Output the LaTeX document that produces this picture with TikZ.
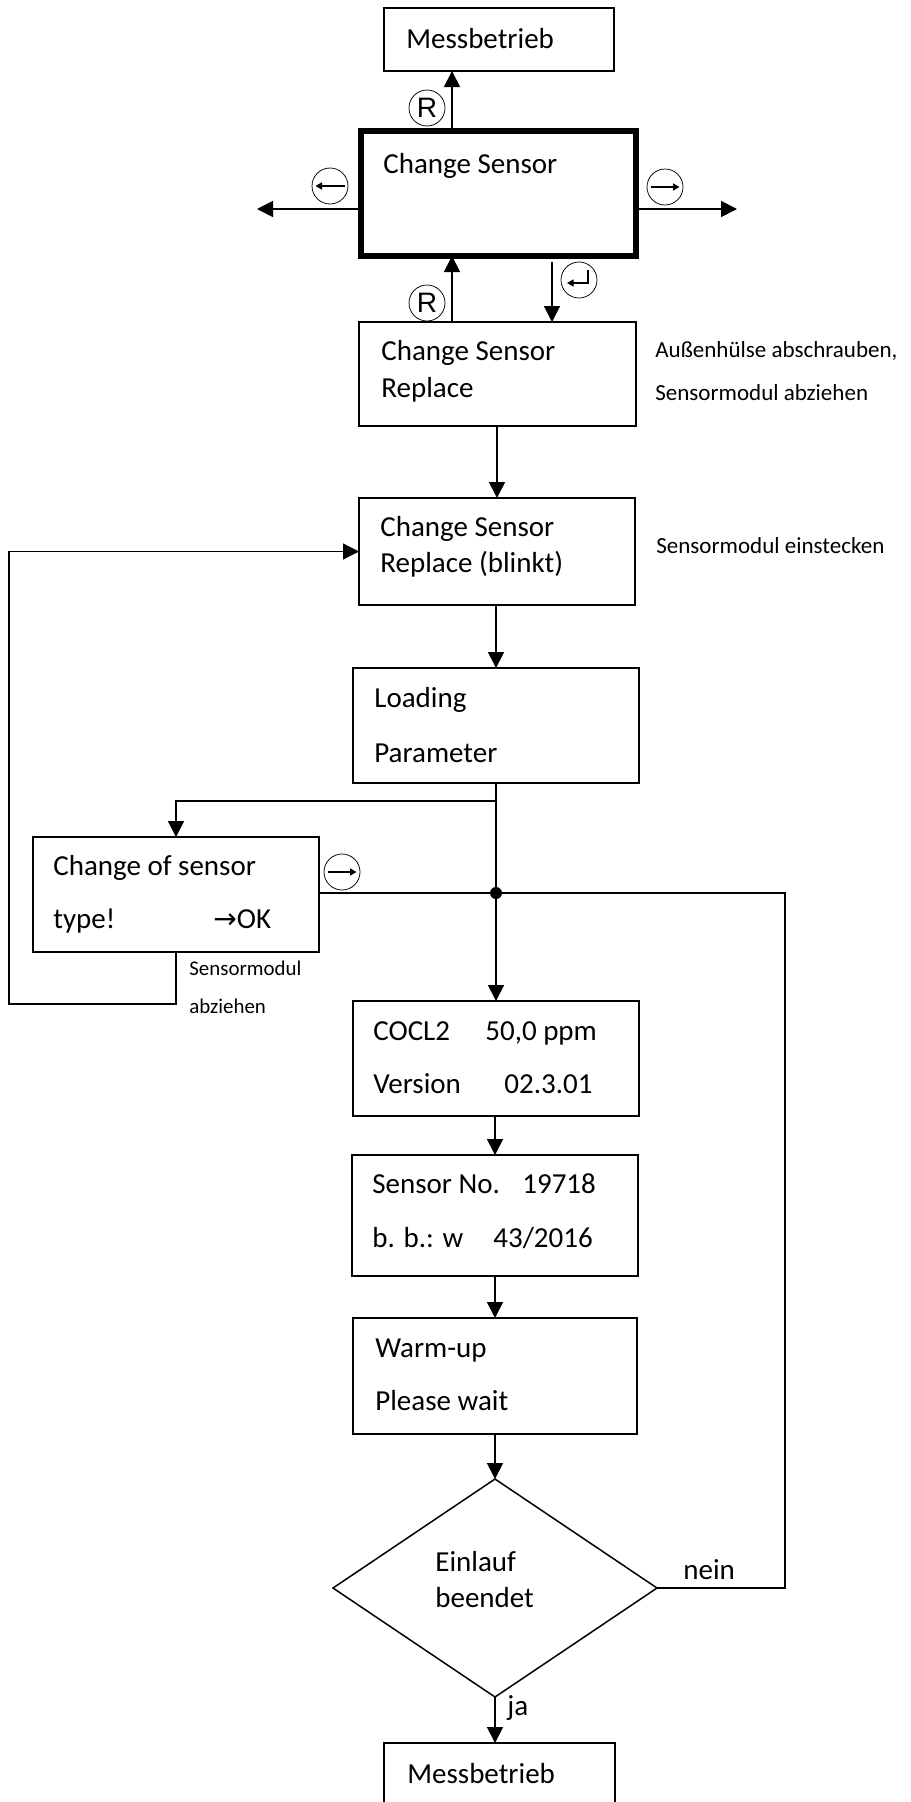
\documentclass[tikz,border=0pt]{standalone}
\usepackage{fontspec}
\setmainfont{Carlito}
\newfontfamily\keyfont{Liberation Sans}
\newfontfamily\symfont{DejaVu Sans}
\usetikzlibrary{shapes.geometric, arrows.meta, positioning, calc}

\newcommand{\px}{0.2mm}
\newcommand{\dispfont}{\fontsize{16.5}{20}\selectfont}
\newcommand{\notefont}{\fontsize{13.1}{16}\selectfont}
\newcommand{\tinynote}{\fontsize{11.9}{14}\selectfont}

\begin{document}
\begin{tikzpicture}[x=0.2mm, y=-0.2mm,
    disp/.style={draw, line width=0.35mm, rectangle, minimum width=286*\px, minimum height=115*\px, inner sep=0pt, outer sep=0pt},
    txt/.style={anchor=base west, inner sep=0pt, font=\dispfont},
    notetxt/.style={anchor=base west, inner sep=0pt, font=\notefont},
    smallnote/.style={anchor=base west, inner sep=0pt, font=\tinynote},
    keycirc/.style={draw, circle, line width=0.15mm, minimum size=36*\px, inner sep=0pt, font=\keyfont\fontsize{16}{16}\selectfont},
    keyarr/.style={line width=0.3mm, -{Triangle[length=1.3mm,width=1.4mm]}},
    arr/.style={line width=0.35mm, -{Triangle[length=3.2mm,width=3.2mm]}},
    wire/.style={line width=0.35mm},
    thinwire/.style={line width=0.25mm}
]
\useasboundingbox (0,0) rectangle (910,1802);
\clip (0,0) rectangle (910,1802);
\fill[white] (0,0) rectangle (910,1802);

% Messbetrieb (top)
\node[disp, minimum width=230*\px, minimum height=63*\px] (mtop) at (499,39.5) {};
\node[txt] (tmtop) at (406,48) {Messbetrieb};

% Change Sensor menu
\node[disp, line width=1.1mm, minimum width=275*\px, minimum height=125*\px] (change) at (498.5,193.5) {};
\node[txt] (tchange) at (383,173) {Change Sensor};

% Change Sensor Replace
\node[disp, minimum width=277*\px, minimum height=104*\px] (replace) at (497.5,374) {};
\node[txt] (trep1) at (381,360) {Change Sensor};
\node[txt] (trep2) at (381,397) {Replace};
\node[notetxt] (nrep1) at (655,357) {Außenhülse abschrauben,};
\node[notetxt] (nrep2) at (655,400) {Sensormodul abziehen};

% Replace (blinkt)
\node[disp, minimum width=276*\px, minimum height=107*\px] (blinkt) at (497,551.5) {};
\node[txt] (tbl1) at (380,536) {Change Sensor};
\node[txt] (tbl2) at (380,572) {Replace (blinkt)};
\node[notetxt] (nbl) at (656,553) {Sensormodul einstecken};

% Loading Parameter
\node[disp] (loading) at (496,725.5) {};
\node[txt] (tld1) at (374,707) {Loading};
\node[txt] (tld2) at (374,762) {Parameter};

% Change of sensor type
\node[disp] (typechg) at (176,894.5) {};
\node[txt] (tty1) at (53,875) {Change of sensor};
\node[txt] (tty2) at (53,928) {type!};
\node[txt] (tty3) at (213,928) {{\symfont\fontsize{16}{16}\selectfont →}OK};
\node[smallnote] (nty1) at (189,975) {Sensormodul};
\node[smallnote] (nty2) at (189,1013) {abziehen};

% junction
\node[fill, circle, minimum size=12*\px, inner sep=0pt] (jn) at (496,893) {};

% COCL2 / Version
\node[disp] (cocl) at (496,1058.5) {};
\node[txt] (tco1) at (373,1040) {COCL2};
\node[txt] (tco2) at (485,1040) {50,0 ppm};
\node[txt] (tco3) at (373,1093) {Version};
\node[txt] (tco4) at (504,1093) {02.3.01};

% Sensor No.
\node[disp, minimum height=121*\px] (sensno) at (495,1215.5) {};
\node[txt] (tsn1) at (372,1193) {Sensor No.};
\node[txt] (tsn2) at (522,1193) {19718};
\node[txt] (tsn3) at (372,1247) {b. b.: w};
\node[txt] (tsn4) at (493,1247) {43/2016};

% Warm-up
\node[disp, minimum width=284*\px, minimum height=116*\px] (warmup) at (495,1376) {};
\node[txt] (twu1) at (375,1357) {Warm-up};
\node[txt] (twu2) at (375,1410) {Please wait};

% Einlauf beendet?
\node[draw, diamond, line width=0.3mm, minimum width=324*\px, minimum height=218*\px, inner sep=0pt, outer sep=0pt] (decide) at (495,1588) {};
\node[txt] (tdc1) at (435,1571) {Einlauf};
\node[txt] (tdc2) at (435,1607) {beendet};
\node[txt] (tnein) at (683,1579) {nein};
\node[txt] (tja) at (507,1715) {ja};

% Messbetrieb (bottom)
\node[disp, minimum width=231*\px, minimum height=64*\px] (mbot) at (499.5,1775) {};
\node[txt] (tmbot) at (407,1783) {Messbetrieb};

% keys
\node[keycirc] (kr1) at (427,108) {R};
\node[keycirc] (kr2) at (427,303) {R};
\node[keycirc] (kleft) at (330,186) {};
\node[keycirc] (kright) at (665,187) {};
\node[keycirc] (kenter) at (579,280) {};
\node[keycirc] (kright2) at (342,872) {};
\draw[keyarr] ([xshift=2.9mm]kleft.center) -- ([xshift=-2.9mm]kleft.center);
\draw[keyarr] ([xshift=-2.9mm]kright.center) -- ([xshift=2.9mm]kright.center);
\draw[keyarr] ([xshift=-2.9mm]kright2.center) -- ([xshift=2.9mm]kright2.center);
\draw[keyarr] ([shift={(9,-10)}]kenter.center) -- ([shift={(9,3)}]kenter.center) -- ([shift={(-12,3)}]kenter.center);

% connector helpers
\coordinate (ax) at (452,0);
\coordinate (lout) at (257,209);
\coordinate (rout) at (737,209);
\coordinate (etop) at (552,262);
\coordinate (br) at (496,801);
\coordinate (nloop) at (785,1588);
\coordinate (lloop) at (9,1004);

% arrows round Change Sensor
\draw[arr] (change.north -| ax) -- (mtop.south -| ax);
\draw[arr] (change.west |- lout) -- (lout);
\draw[arr] (change.east |- rout) -- (rout);
\draw[arr] (replace.north -| ax) -- (change.south -| ax);
\draw[arr] (etop) -- (replace.north -| etop);

% main line
\draw[arr] (replace.south -| blinkt) -- (blinkt.north);
\draw[arr] (blinkt.south -| loading) -- (loading.north);
\draw[wire] (loading.south) -- (jn);
\draw[arr] (jn) -- (cocl.north);
\draw[arr] (cocl.south -| sensno) -- (sensno.north);
\draw[arr] (sensno.south) -- (warmup.north);
\draw[arr] (warmup.south) -- (decide.north);
\draw[arr] (decide.south) -- (mbot.north -| decide);

% sensor type branch
\draw[arr] (br) -| (typechg.north);
\draw[wire] (typechg.east |- jn) -- (jn);
\draw[thinwire, -{Triangle[length=3.2mm,width=3.2mm]}] (typechg.south) |- (lloop) |- (blinkt.west);

% nein loop
\draw[thinwire] (decide.east) -- (nloop) |- (jn);

\end{tikzpicture}
\end{document}
